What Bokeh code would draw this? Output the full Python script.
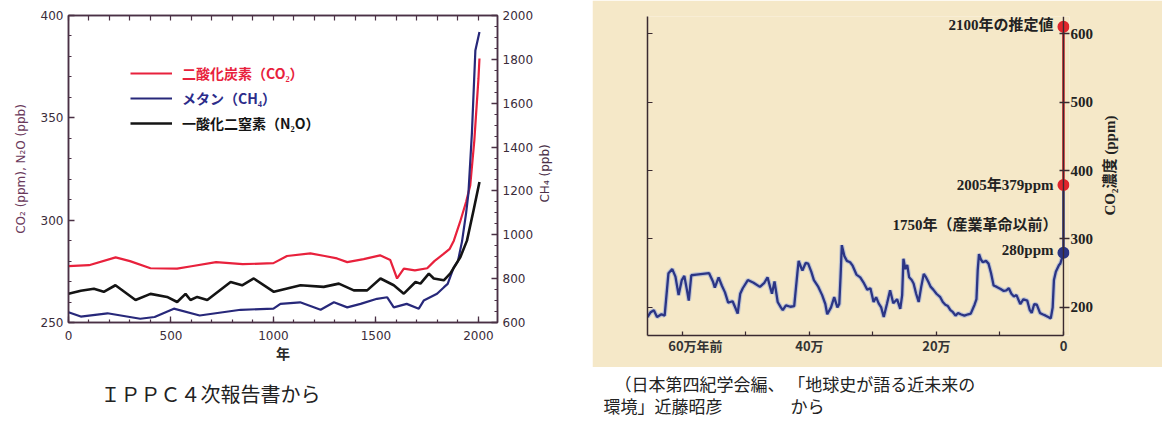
from math import pi
from bokeh.plotting import figure
from bokeh.models import (Range1d, LinearAxis, FixedTicker, Label, Legend,
                          LegendItem, Span)
from bokeh.layouts import row, column
from bokeh.embed import file_html
from bokeh.resources import INLINE

# ---------------- left panel data (IPCC AR4) ----------------
co2_year = [0, 100, 230, 300, 400, 530, 600, 720, 850, 1000, 1066, 1180, 1250,
            1310, 1360, 1440, 1520, 1570, 1603, 1636, 1690, 1750, 1785, 1830,
            1860, 1880, 1910, 1940, 1960, 1980, 2000, 2005]
co2_ppm = [277.5, 278, 281.8, 280, 276.5, 276.3, 277.5, 279.5, 278.5, 279,
           282.5, 283.8, 282.5, 281.3, 279.5, 281, 282.8, 280.5, 271.5, 276.3,
           275.5, 276.5, 280, 283.5, 286, 290, 299, 309, 317, 339, 369, 379]

ch4_year = [0, 60, 190, 350, 420, 514, 640, 840, 1000, 1034, 1130, 1230, 1295,
            1360, 1425, 1505, 1555, 1587, 1650, 1709, 1733, 1798, 1832, 1850,
            1880, 1900, 1920, 1940, 1951, 1968, 1985, 2005]
ch4_ppb = [647, 627, 642, 617, 625, 663, 632, 658, 663, 685, 692, 658, 692,
           669, 685, 708, 715, 669, 685, 663, 700, 731, 761, 776, 852, 880,
           970, 1100, 1188, 1462, 1840, 1925]

n2o_year = [0, 60, 124, 172, 229, 327, 400, 481, 530, 571, 595, 628, 677, 791,
            847, 904, 1002, 1132, 1245, 1319, 1392, 1457, 1522, 1587, 1636,
            1693, 1717, 1758, 1782, 1831, 1863, 1912, 1944, 1976, 2005]
n2o_ppb = [264, 265.5, 266.5, 265, 268.2, 261, 264, 262.5, 260, 264, 261,
           262.5, 261, 269.8, 268.2, 271.5, 265, 268.2, 267.4, 269, 265.7,
           265.7, 271.5, 268.2, 264.1, 269.8, 269, 273.9, 271.5, 270.6, 274,
           282, 290, 304.7, 318.6]

left_x_ticks = [0, 500, 1000, 1500, 2000]
left_y_ticks = [250, 300, 350, 400]
ch4_ticks = [600, 800, 1000, 1200, 1400, 1600, 1800, 2000]
legend_labels = ["二酸化炭素（CO₂）", "メタン（CH₄）", "一酸化二窒素（N₂O）"]

# ---------------- right panel data (650 kyr CO2) ----------------
ka_ago = [655, 650, 645, 640, 633, 628, 622, 616, 611, 606, 601, 597, 593, 590,
          586, 578, 568, 558, 552, 549, 543, 538, 533, 528, 521, 516, 513, 509,
          505, 497, 488, 478, 471, 466, 462, 459, 455, 450, 445, 442, 437, 430,
          424, 419, 417, 413, 411, 406, 402, 397, 393, 386, 380, 375, 372, 366,
          361, 356, 353, 351, 349, 345, 341, 336, 332, 326, 320, 314, 309, 304,
          299, 295, 291, 287, 283, 278, 273, 268, 262, 257, 254, 252, 249, 246,
          243, 239, 236, 232, 228, 224, 220, 217, 213, 209, 205, 200, 194, 190,
          186, 182, 178, 174, 170, 166, 162, 156, 150, 146, 140, 137, 135, 133,
          130, 127, 122, 118, 114, 110, 105, 99, 94, 90, 86, 82, 78, 74, 68, 63,
          57, 53, 50, 46, 42, 37, 33, 28, 24, 20, 17, 15, 12, 10, 7, 5, 3, 1, 0]
co2_ice = [186, 193, 196, 186, 190, 188, 250, 256, 245, 218, 240, 246, 226, 210,
           247, 248, 249, 250, 238, 229, 244, 232, 222, 207, 209, 198, 191, 220,
           228, 240, 236, 230, 236, 244, 230, 220, 238, 208, 200, 196, 203, 201,
           202, 250, 268, 258, 254, 265, 264, 252, 240, 230, 218, 205, 190, 200,
           215, 200, 205, 245, 291, 275, 268, 266, 261, 248, 244, 235, 226, 228,
           208, 215, 206, 200, 186, 205, 225, 206, 212, 198, 218, 271, 256, 262,
           244, 240, 235, 220, 208, 230, 249, 245, 238, 230, 226, 220, 215, 208,
           204, 202, 196, 193, 188, 192, 190, 188, 190, 191, 204, 212, 255, 278,
           270, 266, 268, 264, 250, 232, 230, 227, 224, 225, 228, 220, 216, 218,
           205, 212, 210, 196, 192, 205, 204, 192, 190, 188, 186, 184, 200, 240,
           252, 256, 262, 264, 270, 276, 280]

marker_ka = [0, 0, 0]
marker_ppm = [280, 379, 610]
marker_text = ["280ppm", "2005年379ppm", "2100年の推定値"]
right_y_ticks = [200, 300, 400, 500, 600]
right_x_major = [0, 200, 400, 600]
right_x_minor = [100, 300, 500]
right_x_labels = {600: "\u3000\u300060万年前", 400: "40万", 200: "20万", 0: "0"}

caption_left = "ＩＰＰＣ４次報告書から"
caption_right = ["（日本第四紀学会編、 「地球史が語る近未来の",
                 "環境」近藤昭彦\u3000\u3000\u3000\u3000から"]

# ---------------- styles ----------------
AX1 = "#4a3045"
TXT1 = "#3a2c3a"
RED = "#e8213c"
NAVY = "#27287a"
BLK = "#141414"
BEIGE = "#f5e8c8"
AX2 = "#3a2a30"
NAVY2 = "#2b3585"
RED2 = "#e0242c"
SANS = "DejaVu Sans"
CJK = "Noto Sans CJK JP"
SERIF = "Liberation Serif, Noto Sans CJK JP"


def style(ax, color, tick_in, minor_in, font, size, tcolor, weight="normal"):
    ax.axis_line_color = color
    ax.axis_line_width = 1.5
    ax.major_tick_line_color = color
    ax.minor_tick_line_color = color
    ax.major_tick_line_width = 1.3
    ax.minor_tick_line_width = 1.2
    ax.major_tick_in = tick_in
    ax.major_tick_out = 0
    ax.minor_tick_in = minor_in
    ax.minor_tick_out = 0
    ax.major_label_text_font = font
    ax.major_label_text_font_size = size
    ax.major_label_text_color = tcolor
    ax.major_label_text_font_style = weight


def flip_label(ax, text, pad):
    # right-side axis label reading bottom-to-top, like the reference:
    # it starts at the bottom of the axis and is pushed up by ideographic spaces
    if hasattr(ax, "axis_label_orientation"):
        ax.axis_label_orientation = pi / 2
        ax.axis_label_align = "start"
        ax.axis_label = "\u3000" * pad + text
    else:
        ax.axis_label = text


# ================= left figure =================
p1 = figure(width=592, height=367, x_range=Range1d(0, 2093),
            y_range=Range1d(250, 400), output_backend="svg",
            toolbar_location=None, x_axis_location=None, y_axis_location=None,
            min_border_left=68, min_border_right=95, min_border_top=15,
            min_border_bottom=45)
p1.extra_y_ranges = {"ch4": Range1d(600, 2000)}
p1.outline_line_color = AX1
p1.outline_line_width = 1.5
p1.grid.grid_line_color = None
p1.background_fill_color = "white"
p1.border_fill_color = "white"

xt = FixedTicker(ticks=left_x_ticks, minor_ticks=list(range(0, 2001, 100)))
bottom = LinearAxis(ticker=xt, axis_label="年")
style(bottom, AX1, 6, 3, SANS, "12px", TXT1)
bottom.major_label_standoff = 8
bottom.axis_label_text_font = CJK
bottom.axis_label_text_font_style = "bold"
bottom.axis_label_text_font_size = "14px"
bottom.axis_label_text_color = "#2a2a2a"
bottom.axis_label_standoff = 0
p1.add_layout(bottom, "below")

top = LinearAxis(ticker=FixedTicker(ticks=[],
                                    minor_ticks=list(range(0, 2001, 100))))
style(top, AX1, 0, 5, SANS, "12px", TXT1)
p1.add_layout(top, "above")

left = LinearAxis(ticker=FixedTicker(ticks=left_y_ticks,
                                     minor_ticks=list(range(250, 401, 10))),
                  axis_label="CO₂ (ppm), N₂O (ppb)")
style(left, AX1, 6, 3, SANS, "12px", TXT1)
left.major_label_standoff = 5
left.axis_label_text_font = SANS
left.axis_label_text_font_size = "12px"
left.axis_label_text_font_style = "normal"
left.axis_label_text_color = "#6b3a5c"
left.axis_label_standoff = 10
p1.add_layout(left, "left")

right = LinearAxis(y_range_name="ch4",
                   ticker=FixedTicker(ticks=ch4_ticks,
                                      minor_ticks=list(range(600, 2001, 50))))
style(right, AX1, 6, 3, SANS, "12px", TXT1)
right.major_label_standoff = 5
right.axis_label_text_font = SANS
right.axis_label_text_font_size = "12px"
right.axis_label_text_font_style = "normal"
right.axis_label_text_color = "#4a3048"
right.axis_label_standoff = 9
flip_label(right, "CH₄ (ppb)", 10)
p1.add_layout(right, "right")

r_co2 = p1.line(co2_year, co2_ppm, line_color=RED, line_width=2.2)
r_ch4 = p1.line(ch4_year, ch4_ppb, y_range_name="ch4", line_color=NAVY,
                line_width=2.2)
r_n2o = p1.line(n2o_year, n2o_ppb, line_color=BLK, line_width=2.6)

for i, (r, c) in enumerate([(r_co2, RED), (r_ch4, "#2c2c8a"), (r_n2o, BLK)]):
    lg = Legend(items=[LegendItem(label=legend_labels[i], renderers=[r])],
                location=(62, 239 - 25 * i), border_line_color=None,
                background_fill_alpha=0, padding=0, margin=0, glyph_width=42,
                glyph_height=20, label_height=20, label_standoff=10,
                label_text_font=CJK, label_text_font_size="14px",
                label_text_font_style="bold", label_text_color=c)
    p1.add_layout(lg, "center")

# ================= right figure =================
p2 = figure(width=570, height=367, x_range=Range1d(655, -9.5),
            y_range=Range1d(159, 625), output_backend="svg",
            toolbar_location=None, x_axis_location=None, y_axis_location=None,
            min_border_left=55, min_border_right=93, min_border_top=16,
            min_border_bottom=32)
p2.background_fill_color = BEIGE
p2.border_fill_color = BEIGE
p2.outline_line_color = None
p2.grid.grid_line_color = None

b2 = LinearAxis(ticker=FixedTicker(ticks=right_x_major,
                                   minor_ticks=right_x_minor),
                major_label_overrides=right_x_labels)
style(b2, AX2, 4, 4, CJK, "13px", "#333", "bold")
b2.major_label_standoff = 0
b2.bounds = (0, 655)
p2.add_layout(b2, "below")

l2 = LinearAxis(ticker=FixedTicker(ticks=[], minor_ticks=right_y_ticks))
style(l2, AX2, 0, 5, SANS, "12px", "#333")
p2.add_layout(l2, "left")

r2 = LinearAxis(ticker=FixedTicker(ticks=right_y_ticks))
style(r2, AX2, 10, 0, SERIF, "15px", "#222", "bold")
r2.axis_line_color = None
r2.major_label_standoff = 1
r2.axis_label_text_font = SERIF
r2.axis_label_text_font_size = "15px"
r2.axis_label_text_font_style = "bold"
r2.axis_label_text_color = "#222"
r2.axis_label_standoff = 14
flip_label(r2, "CO₂濃度 (ppm)", 8)
p2.add_layout(r2, "right")

p2.add_layout(Span(location=0, dimension="height", line_color=AX2,
                   line_width=1.4))

p2.line(ka_ago, co2_ice, line_color="#8aa0dc", line_width=4.5, line_alpha=0.5)
p2.line(ka_ago, co2_ice, line_color=NAVY2, line_width=2.3)
p2.line(marker_ka[0:2], marker_ppm[0:2], line_color=NAVY2, line_width=2.5)
p2.line(marker_ka[1:3], marker_ppm[1:3], line_color=RED2, line_width=2.5)
p2.scatter(marker_ka, marker_ppm, size=12, line_color=None,
           fill_color=[NAVY2, RED2, RED2])


def note(text, i, dx, dy):
    p2.add_layout(Label(x=marker_ka[i], y=marker_ppm[i], x_offset=dx,
                        y_offset=dy, text=text, text_align="right",
                        text_baseline="middle", text_font=SERIF,
                        text_font_size="15px", text_font_style="bold",
                        text_color="#222"))


note(marker_text[2], 2, -10, 2)
note(marker_text[1], 1, -10, 0)
note(marker_text[0], 0, -10, 3)
note("1750年（産業革命以前）", 0, -6, 28)

# ================= caption strip (both panels) =================
pc = figure(width=1162, height=58, x_range=Range1d(0, 1162),
            y_range=Range1d(0, 58), output_backend="svg",
            toolbar_location=None, x_axis_location=None, y_axis_location=None,
            min_border_left=0, min_border_right=0, min_border_top=0,
            min_border_bottom=0)
pc.outline_line_color = None
pc.grid.grid_line_color = None
pc.add_layout(Label(x=210, y=32, text=caption_left, text_align="center",
                    text_baseline="middle", text_font=CJK,
                    text_font_size="20px", text_color="#222"))
pc.add_layout(Label(x=614, y=42, text=caption_right[0],
                    text_baseline="middle", text_font=CJK,
                    text_font_size="17px", text_color="#222"))
pc.add_layout(Label(x=603, y=20, text=caption_right[1],
                    text_baseline="middle", text_font=CJK,
                    text_font_size="17px", text_color="#222"))

# nested columns keep Bokeh from aligning the two plot frames
panels = row(column(p1, spacing=0), column(p2, spacing=0), spacing=0)
layout = column(panels, pc, spacing=0)
open("out.html", "w").write(file_html(layout, INLINE))
